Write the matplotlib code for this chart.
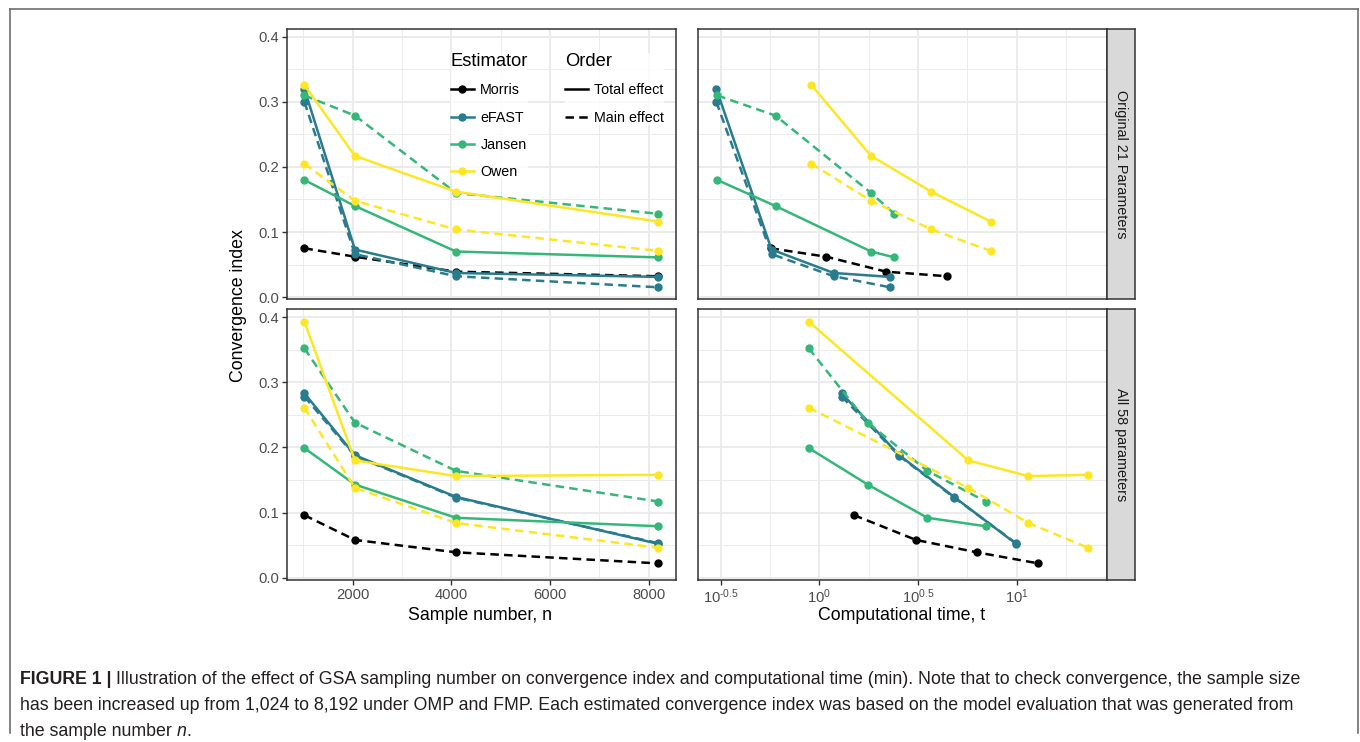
import matplotlib
matplotlib.use("Agg")
import matplotlib.pyplot as plt
from matplotlib.lines import Line2D
from matplotlib.ticker import FixedLocator, NullFormatter, FormatStrFormatter

plt.rcParams['font.family'] = ['Liberation Sans', 'DejaVu Sans']
plt.rcParams['mathtext.fontset'] = 'custom'
plt.rcParams['mathtext.rm'] = 'Liberation Sans'
plt.rcParams['mathtext.it'] = 'Liberation Sans:italic'
plt.rcParams['axes.unicode_minus'] = False

# ---- data ----
n = [1024, 2048, 4096, 8192]

# Original 21 parameters
morris_main_21 = [0.075, 0.062, 0.039, 0.032]
efast_total_21 = [0.320, 0.073, 0.037, 0.031]
efast_main_21 = [0.300, 0.066, 0.032, 0.015]
jansen_total_21 = [0.180, 0.140, 0.070, 0.061]
jansen_main_21 = [0.310, 0.279, 0.160, 0.128]
owen_total_21 = [0.326, 0.217, 0.162, 0.116]
owen_main_21 = [0.205, 0.148, 0.104, 0.071]

morris_t_21 = [0.566, 1.086, 2.18, 4.43]
efast_t_21 = [0.301, 0.573, 1.183, 2.285]
jansen_t_21 = [0.304, 0.600, 1.83, 2.40]
owen_t_21 = [0.912, 1.83, 3.69, 7.39]

# All 58 parameters
morris_main_58 = [0.096, 0.058, 0.039, 0.022]
efast_total_58 = [0.283, 0.188, 0.124, 0.052]
efast_main_58 = [0.278, 0.187, 0.123, 0.053]
jansen_total_58 = [0.199, 0.143, 0.092, 0.079]
jansen_main_58 = [0.352, 0.238, 0.164, 0.117]
owen_total_58 = [0.393, 0.180, 0.156, 0.158]
owen_main_58 = [0.261, 0.138, 0.084, 0.046]

morris_t_58 = [1.50, 3.09, 6.28, 12.88]
efast_t_58 = [1.30, 2.54, 4.82, 9.93]
jansen_t_58 = [0.885, 1.76, 3.53, 6.97]
owen_t_58 = [0.885, 5.69, 11.46, 23.0]

estimators = ["Morris", "eFAST", "Jansen", "Owen"]
orders = ["Total effect", "Main effect"]
strip_labels = ["Original 21 Parameters", "All 58 parameters"]
time_tick_labels = [r'$\mathregular{10^{\text{-}0.5}}$', r'$\mathregular{10^{0}}$',
                    r'$\mathregular{10^{0.5}}$', r'$\mathregular{10^{1}}$']

colors = {"Morris": "black", "eFAST": "#287C8E", "Jansen": "#35B779", "Owen": "#FDE725"}
LW = 1.8
MS = 5.0
DASH = (3.4, 2.1)

W, H = 1360, 742
fig = plt.figure(figsize=(13.6, 7.42), dpi=100)


def box(x0, y0, x1, y1):
    # pixel box (top-left origin) -> figure fractions
    return [x0 / W, 1 - y1 / H, (x1 - x0) / W, (y1 - y0) / H]


ax_tl = fig.add_axes(box(286.7, 29.3, 676, 299))
ax_bl = fig.add_axes(box(286.7, 309, 676, 580))
ax_tr = fig.add_axes(box(697.7, 29.3, 1106.7, 299))
ax_br = fig.add_axes(box(697.7, 309, 1106.7, 580))

series_21 = [
    ("Morris", None, morris_main_21, morris_t_21),
    ("eFAST", efast_total_21, efast_main_21, efast_t_21),
    ("Jansen", jansen_total_21, jansen_main_21, jansen_t_21),
    ("Owen", owen_total_21, owen_main_21, owen_t_21),
]
series_58 = [
    ("Morris", None, morris_main_58, morris_t_58),
    ("eFAST", efast_total_58, efast_main_58, efast_t_58),
    ("Jansen", jansen_total_58, jansen_main_58, jansen_t_58),
    ("Owen", owen_total_58, owen_main_58, owen_t_58),
]


def draw(ax, series, use_time):
    z = 3
    for name, total, main, tt in series:
        xs = tt if use_time else n
        c = colors[name]
        if total is not None:
            ax.plot(xs, total, color=c, lw=LW, zorder=z)
            ax.plot(xs, total, 'o', color=c, ms=MS, zorder=z + 0.5)
        ax.plot(xs, main, color=c, lw=LW, dashes=DASH, zorder=z)
        ax.plot(xs, main, 'o', color=c, ms=MS, zorder=z + 0.5)
        z += 1


def style(ax, ylim):
    ax.set_ylim(*ylim)
    ax.yaxis.set_major_locator(FixedLocator([0, 0.1, 0.2, 0.3, 0.4]))
    ax.yaxis.set_minor_locator(FixedLocator([0.05, 0.15, 0.25, 0.35]))
    ax.grid(which='major', color='#EBEBEB', lw=1.4, zorder=0)
    ax.grid(which='minor', color='#EBEBEB', lw=0.7, zorder=0)
    ax.set_axisbelow(True)
    for s in ax.spines.values():
        s.set_color('#333333')
        s.set_linewidth(1.1)
        s.set_zorder(10)
    ax.tick_params(which='major', length=3.5, width=1.0, color='#333333',
                   labelsize=10.6, labelcolor='#4D4D4D', pad=2)
    ax.tick_params(which='minor', length=0)


ylim_top = (-0.003, 0.4117)
ylim_bot = (-0.0035, 0.4125)

for ax, ser, yl in [(ax_tl, series_21, ylim_top), (ax_bl, series_58, ylim_bot)]:
    draw(ax, ser, False)
    style(ax, yl)
    ax.set_xlim(665.6, 8550.4)
    ax.xaxis.set_major_locator(FixedLocator([2000, 4000, 6000, 8000]))
    ax.xaxis.set_minor_locator(FixedLocator([1000, 3000, 5000, 7000]))
    ax.yaxis.set_major_formatter(FormatStrFormatter('%.1f'))

for ax, ser, yl in [(ax_tr, series_21, ylim_top), (ax_br, series_58, ylim_bot)]:
    draw(ax, ser, True)
    ax.set_xscale('log')
    style(ax, yl)
    ax.set_xlim(10 ** -0.616, 10 ** 1.456)
    ax.xaxis.set_major_locator(FixedLocator([10 ** -0.5, 1, 10 ** 0.5, 10]))
    ax.xaxis.set_minor_locator(FixedLocator([10 ** -0.25, 10 ** 0.25, 10 ** 0.75, 10 ** 1.25]))
    ax.xaxis.set_minor_formatter(NullFormatter())
    ax.tick_params(axis='y', which='both', length=0, labelleft=False)

ax_br.set_xticklabels(time_tick_labels)
for ax in (ax_tl, ax_tr):
    ax.tick_params(axis='x', which='both', length=0, labelbottom=False)

# facet strips
for (y0, y1), lab in zip([(29.3, 299), (309, 580)], strip_labels):
    sax = fig.add_axes(box(1106.7, y0, 1135, y1))
    sax.set_facecolor('#D9D9D9')
    sax.set_xticks([])
    sax.set_yticks([])
    for s in sax.spines.values():
        s.set_color('#333333')
        s.set_linewidth(1.1)
    sax.text(0.5, 0.5, lab, rotation=270, ha='center', va='center',
             fontsize=10.4, color='#1A1A1A', transform=sax.transAxes)

# axis titles
fig.text(239 / W, 1 - 306 / H, "Convergence index", rotation=90,
         ha='center', va='center', fontsize=12.8)
fig.text(480 / W, 1 - 616 / H, "Sample number, n", ha='center', va='center', fontsize=12.8)
fig.text(902 / W, 1 - 616 / H, "Computational time, t", ha='center', va='center', fontsize=12.8)

# legends inside the top-left panel
est_handles = [Line2D([], [], color=colors[e], lw=LW, marker='o', ms=MS) for e in estimators]
ord_handles = [Line2D([], [], color='black', lw=LW),
               Line2D([], [], color='black', lw=LW, dashes=DASH)]
common = dict(loc='upper left', bbox_transform=fig.transFigure, frameon=True,
              fancybox=False, borderpad=0.0, handlelength=1.6, handletextpad=0.45,
              labelspacing=0.93, fontsize=10.3, title_fontsize=13.2, alignment='left',
              borderaxespad=0)
leg1 = ax_tl.legend(est_handles, estimators, title="Estimator",
                    bbox_to_anchor=(451 / W, 1 - 53 / H), **common)
leg1.get_frame().set_edgecolor('none')
leg1.set_zorder(20)
ax_tl.add_artist(leg1)
leg2 = ax_tl.legend(ord_handles, orders, title="Order",
                    bbox_to_anchor=(565 / W, 1 - 53 / H), **common)
leg2.get_frame().set_edgecolor('none')
leg2.set_zorder(20)

# outer frame of the figure panel
fc = '#6E6E6E'
fig.add_artist(Line2D([10 / W, 10 / W], [1 - 733 / H, 1 - 9 / H], color=fc, lw=1.2,
                      transform=fig.transFigure))
fig.add_artist(Line2D([10 / W, 1357.5 / W], [1 - 9 / H, 1 - 9 / H], color=fc, lw=1.2,
                      transform=fig.transFigure))
fig.add_artist(Line2D([1357.5 / W, 1357.5 / W], [1 - 9 / H, 1 - 733 / H], color=fc, lw=1.2,
                      transform=fig.transFigure))

# caption, pieces placed on a shared baseline
CAP_FS = 12.8
cap_color = '#231F20'
renderer = fig.canvas.get_renderer()
space = CAP_FS * 0.278 * 100 / 72


def cap(x_px, base_px, txt, **kw):
    t = fig.text(x_px / W, 1 - base_px / H, txt, fontsize=CAP_FS, color=cap_color,
                 va='baseline', ha='left', **kw)
    return x_px + t.get_window_extent(renderer).width


x = cap(20, 684, "FIGURE 1 |", fontweight='bold')
cap(x + space, 684, "Illustration of the effect of GSA sampling number on convergence index and "
    "computational time (min). Note that to check convergence, the sample size")
cap(20, 710, "has been increased up from 1,024 to 8,192 under OMP and FMP. Each estimated "
    "convergence index was based on the model evaluation that was generated from")
x = cap(20, 736, "the sample number")
x = cap(x + space, 736, "n", style='italic')
cap(x, 736, ".")

fig.savefig("out.png", dpi=100)
